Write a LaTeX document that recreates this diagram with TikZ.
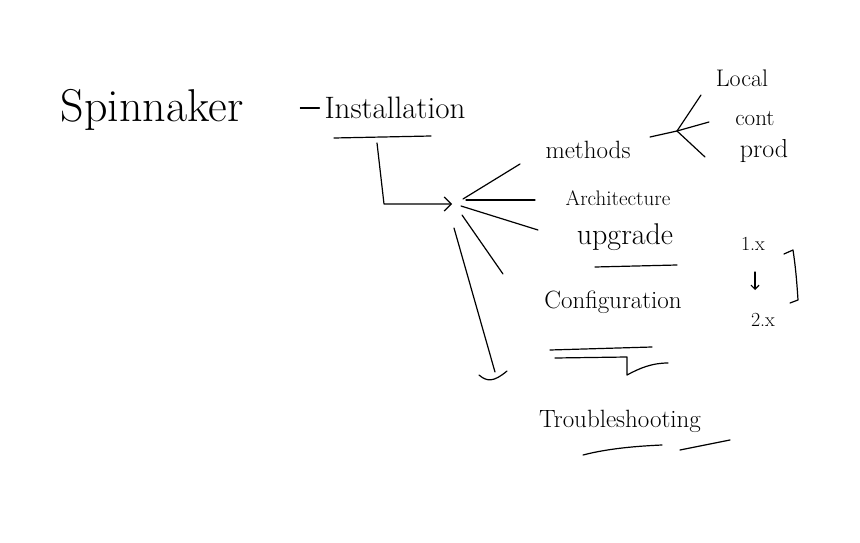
\documentclass[tikz,border=0pt]{standalone}
\usepackage{tikz}
\usetikzlibrary{arrows.meta, positioning, calc}

\begin{document}
\begin{tikzpicture}[
    x=1pt, y=-1pt,
    ink/.style={line width=1.2pt, line cap=round, line join=round},
    word/.style={inner sep=0pt, font=\fontsize{#1}{#1}\selectfont},
    word/.default=24,
    tip/.style={-{Straight Barb[length=7pt, width=14pt]}}
]
    \useasboundingbox (0,0) rectangle (860,543);

    % Titles
    \node[word=46] (spin) at (152,110) {Spinnaker};
    \node[word=31] (inst) at (395,108) {Installation};
    \draw[ink] ([xshift=-24pt]inst.west) -- ([xshift=-5pt]inst.west);
    \coordinate (instL) at (334,138);
    \coordinate (instR) at (431,136);
    \draw[ink] (instL) -- (instR);

    % Elbow into the fan
    \coordinate (drop) at (377,143);
    \coordinate (hub) at (452,204);
    \draw[ink, tip] (drop) -- (384,204) -- (hub);

    % Topics
    \node[word=25] (methods) at (588,150) {methods};
    \node[word=21] (arch) at (618,198) {Architecture};
    \node[word=30] (upg) at (625,237) {upgrade};
    \node[word=25] (conf) at (613,302) {Configuration};
    \node[word=25] (trouble) at (620,421) {Troubleshooting};

    % Fan of strokes
    \coordinate (fan) at (461,205);
    \draw[ink] (fan) ++(2,-6) -- (520,164);
    \draw[ink] (fan) ++(5,-5) -- (535,200);
    \draw[ink] (fan) ++(0,1) -- (538,230);
    \draw[ink] (fan) ++(1,10) -- (503,274);
    \coordinate (down) at (495,372);
    \draw[ink] (fan) ++(-7,23) -- (down);
    \draw[ink] (479,375) .. controls (487,382) and (494,382) .. (507,371);

    % methods -> environments
    \node[word=24] (local) at (742,78) {Local};
    \node[word=23] (cont) at (755,119) {cont};
    \node[word=26] (prod) at (764,151) {prod};
    \coordinate (split) at (677,131);
    \draw[ink] (650,137) -- (split);
    \draw[ink] (split) -- (701,95);
    \draw[ink] (split) -- (709,122);
    \draw[ink] (split) -- (705,157);

    % upgrade versions
    \node[word=20] (v1) at (753,244) {1.x};
    \node[word=20] (v2) at (763,320) {2.x};
    \coordinate (dnA) at (755,272);
    \coordinate (dnB) at (755,290);
    \draw[ink, -{Straight Barb[length=4pt, width=8pt]}] (dnA) -- (dnB);
    \draw[ink] (784,254) -- (793,250) .. controls (796,270) and (797,285) .. (798,300) -- (790,303);
    \draw[ink] (595,267) -- (677,265);

    % configuration strokes
    \draw[ink] (550,350) -- (652,347);
    \draw[ink] (555,358) -- (627,357) -- (627,375) .. controls (640,368) and (652,363) .. (668,363);

    % troubleshooting strokes
    \draw[ink] (583,455) .. controls (610,448) and (640,446) .. (662,445);
    \draw[ink] (680,450) -- (730,440);
\end{tikzpicture}
\end{document}
